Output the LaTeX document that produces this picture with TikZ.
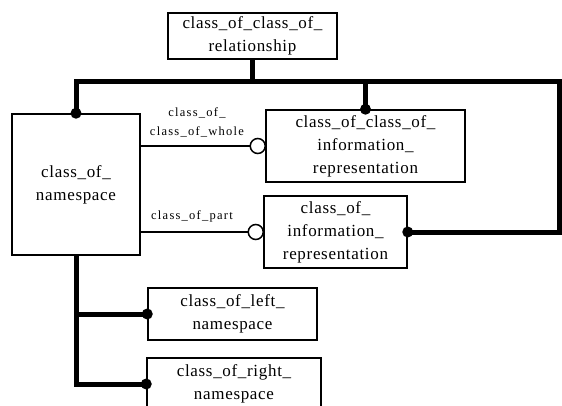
\documentclass[tikz,border=0pt]{standalone}
\usepackage{fontspec}
\setmainfont{Liberation Serif}
\newfontfamily\lblfont[LetterSpace=10]{Liberation Serif}
\newcommand{\bigfnt}{\fontsize{17}{23}\selectfont\addfontfeature{LetterSpace=4}}
\newcommand{\smallfnt}{\lblfont\fontsize{12.5}{19}\selectfont}
\begin{document}
\begin{tikzpicture}[x=1pt,y=-1pt,
  box/.style={draw, line width=1.5pt, inner sep=0pt, align=center, font=\bigfnt},
  buswire/.style={line width=5pt},
  wire/.style={line width=1.5pt},
  dot/.style={circle, fill, inner sep=0pt, minimum size=11pt},
  ring/.style={circle, draw, fill=white, line width=1.5pt, inner sep=0pt, minimum size=15pt},
  lbl/.style={font=\smallfnt, align=center, inner sep=0pt}]
\useasboundingbox (0,0) rectangle (562,406);
\node[box, minimum width=169pt, minimum height=46pt] (rel) at (252.5,36) {class\_of\_class\_of\_\\relationship};
\node[box, minimum width=128pt, minimum height=141pt] (ns) at (76,184.5) {class\_of\_\\namespace};
\node[box, minimum width=199pt, minimum height=72pt] (ccoir) at (365.5,146) {class\_of\_class\_of\_\\information\_\\representation};
\node[box, minimum width=143pt, minimum height=72pt] (coir) at (335.5,232) {class\_of\_\\information\_\\representation};
\node[box, minimum width=169pt, minimum height=52pt] (left) at (232.5,314) {class\_of\_left\_\\namespace};
\node[box, minimum width=174pt, minimum height=52pt] (right) at (234,384) {class\_of\_right\_\\namespace};
\coordinate (busR) at (559,82);
% thick relationship bus
\draw[buswire] (ns.north) |- (busR) -- (busR |- coir.east) -- (coir.east);
\draw[buswire] (rel.south) -- (rel.south |- busR);
\draw[buswire] (ccoir.north) -- (ccoir.north |- busR);
\draw[buswire] (ns.south) |- (left.west);
\draw[buswire] (ns.south) |- (right.west);
% thin role lines
\draw[wire] (ns.east |- ccoir.west) -- (ccoir.west);
\draw[wire] (ns.east |- coir.west) -- (coir.west);
\node[ring] (r1) at ([xshift=-7.5pt]ccoir.west) {};
\node[ring] (r2) at ([xshift=-7.5pt]coir.west) {};
\foreach \a in {ns.north, ccoir.north, coir.east, left.west, right.west}
  \node[dot] at (\a) {};
\node[lbl] (l1) at (197,122) {class\_of\_\\class\_of\_whole};
\node[lbl] (l2) at (192,216) {class\_of\_part};
\end{tikzpicture}
\end{document}
